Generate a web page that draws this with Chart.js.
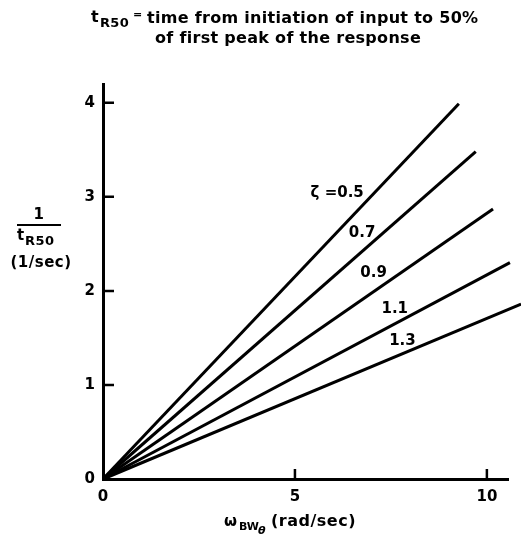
<!DOCTYPE html>
<html>
<head>
<meta charset="utf-8">
<script src="https://cdn.jsdelivr.net/npm/chart.js@4"></script>
<style>
  html, body { margin: 0; padding: 0; background: #fff; }
</style>
</head>
<body>
<canvas id="chart" width="521" height="544"></canvas>
<script>
// damping ratios and where each line ends (x: rad/sec, y: 1/sec)
const zetas = ['0.5', '0.7', '0.9', '1.1', '1.3'];
const endX = [9.27, 9.71, 10.16, 10.6, 10.89];
const endY = [3.99, 3.48, 2.87, 2.30, 1.86];
// curve labels, in data units
const labelText = ['\u03B6 =0.5', '0.7', '0.9', '1.1', '1.3'];
const labelX = [6.1, 6.75, 7.05, 7.6, 7.8];
const labelY = [3.04, 2.61, 2.19, 1.81, 1.47];
const xTicks = [0, 5, 10];
const yTicks = [0, 1, 2, 3, 4];

const FAM = '"DejaVu Sans", sans-serif';
const FONT = 'bold 15px ' + FAM;
const TITLE = 'bold 16px ' + FAM;

const datasets = zetas.map((z, i) => ({
  label: 'ζ = ' + z,
  data: [{ x: 0, y: 0 }, { x: endX[i], y: endY[i] }],
  borderColor: '#000',
  borderWidth: 3,
  pointRadius: 0,
  clip: false
}));

// ticks pointing into the plot, plus all the free text
const decor = {
  id: 'decor',
  afterDraw(chart) {
    const { ctx, scales: { x, y } } = chart;
    ctx.save();
    ctx.strokeStyle = '#000';
    ctx.lineWidth = 2.5;
    ctx.beginPath();
    yTicks.slice(1).forEach(v => {
      const py = y.getPixelForValue(v);
      ctx.moveTo(x.left, py); ctx.lineTo(x.left + 11, py);
    });
    xTicks.slice(1).forEach(v => {
      const px = x.getPixelForValue(v);
      ctx.moveTo(px, y.bottom); ctx.lineTo(px, y.bottom - 10);
    });
    ctx.stroke();

    ctx.fillStyle = '#000';
    ctx.textBaseline = 'middle';
    ctx.font = FONT;
    ctx.textAlign = 'center';
    labelText.forEach((t, i) => {
      ctx.fillText(t, x.getPixelForValue(labelX[i]), y.getPixelForValue(labelY[i]));
    });

    // title
    ctx.textAlign = 'left';
    ctx.letterSpacing = '0.3px';
    ctx.font = TITLE;
    ctx.fillText('t', 91, 18);
    ctx.font = 'bold 13px ' + FAM;
    ctx.fillText('R50', 100, 24);
    ctx.font = 'bold 11px ' + FAM;
    ctx.fillText('=', 133, 15);
    ctx.font = TITLE;
    ctx.fillText('time from initiation of input to 50%', 147, 19);
    ctx.fillText('of first peak of the response', 155, 39);

    // y title
    ctx.font = FONT;
    ctx.letterSpacing = '0.5px';
    ctx.textAlign = 'center';
    ctx.fillText('1', 39, 215);
    ctx.fillRect(17, 224, 44, 2);
    ctx.textAlign = 'left';
    ctx.fillText('t', 17, 236);
    ctx.font = 'bold 13px ' + FAM;
    ctx.fillText('R50', 25, 242);
    ctx.font = FONT;
    ctx.textAlign = 'center';
    ctx.fillText('(1/sec)', 41, 263);

    // x title
    ctx.textAlign = 'left';
    ctx.fillText('\u03C9', 224, 522);
    ctx.font = 'bold 11px ' + FAM;
    ctx.letterSpacing = '0px';
    ctx.fillText('BW', 239, 527);
    ctx.font = 'italic bold 11px ' + FAM;
    ctx.fillText('\u03B8', 258, 531);
    ctx.font = 'bold 16px ' + FAM;
    ctx.letterSpacing = '0.5px';
    ctx.fillText('(rad/sec)', 271, 522);
    ctx.restore();
  }
};

new Chart(document.getElementById('chart'), {
  type: 'scatter',
  data: { datasets },
  options: {
    responsive: false,
    animation: false,
    showLine: true,
    layout: { padding: { top: 84, right: 13, left: 0, bottom: 0 } },
    plugins: { legend: { display: false }, tooltip: { enabled: false } },
    scales: {
      x: {
        type: 'linear', min: 0, max: 10.55,
        afterBuildTicks: s => { s.ticks = xTicks.map(v => ({ value: v })); },
        afterFit: s => { s.height = 65; },
        border: { color: '#000', width: 3 },
        grid: { drawOnChartArea: false, drawTicks: false },
        ticks: { color: '#000', font: { family: 'DejaVu Sans', size: 15, weight: 'bold' }, padding: 9 }
      },
      y: {
        type: 'linear', min: 0, max: 4.2,
        afterBuildTicks: s => { s.ticks = yTicks.map(v => ({ value: v })); },
        afterFit: s => { s.width = 103; },
        border: { color: '#000', width: 3 },
        grid: { drawOnChartArea: false, drawTicks: false },
        ticks: { color: '#000', font: { family: 'DejaVu Sans', size: 15, weight: 'bold' }, padding: 8 }
      }
    }
  },
  plugins: [decor]
});
</script>
</body>
</html>
